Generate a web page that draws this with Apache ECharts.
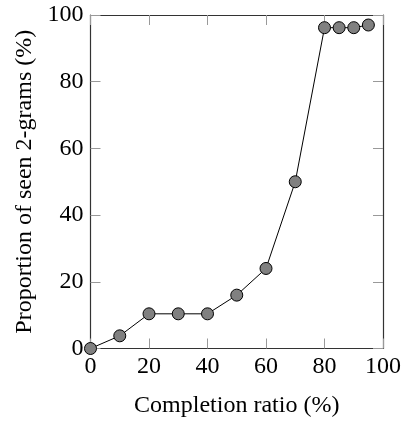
<!DOCTYPE html>
<html>
<head>
<meta charset="utf-8">
<script src="https://cdn.jsdelivr.net/npm/echarts@6/dist/echarts.min.js"></script>
<style>
html,body{margin:0;padding:0;background:#fff;}
#c{width:404px;height:423px;}
</style>
</head>
<body>
<div id="c"></div>
<script>
var completion = [0, 10, 20, 30, 40, 50, 60, 70, 80, 85, 90, 95];
var proportion = [0, 3.8, 10.4, 10.4, 10.4, 16.0, 24.0, 50.0, 96.2, 96.2, 96.2, 97.0];
var xTicks = [0, 20, 40, 60, 80, 100];
var yTicks = [0, 20, 40, 60, 80, 100];
var xName = 'Completion ratio (%)';
var yName = 'Proportion of seen 2-grams (%)';

var FONT = 'Liberation Serif';
var FS = 24;
var chart = echarts.init(document.getElementById('c'), null, {renderer: 'canvas'});
var tickStyle = {show: true, inside: true, length: 10, lineStyle: {color: '#999', width: 1}};
var lineStyle = {show: true, onZero: false, lineStyle: {color: '#333', width: 1.2}};
chart.setOption({
  animation: false,
  grid: {left: 90.5, right: 17.5, top: 15, bottom: 74.5, containLabel: false},
  xAxis: [{
    type: 'value', min: xTicks[0], max: xTicks[xTicks.length - 1], interval: 20,
    position: 'bottom',
    name: xName, nameLocation: 'middle', nameGap: 45,
    nameTextStyle: {fontFamily: FONT, fontSize: FS, color: '#000'},
    axisLine: lineStyle, axisTick: tickStyle,
    axisLabel: {fontFamily: FONT, fontSize: FS, color: '#000', margin: 6},
    splitLine: {show: false}
  }, {
    type: 'value', min: xTicks[0], max: xTicks[xTicks.length - 1], interval: 20,
    position: 'top',
    axisLine: lineStyle, axisTick: tickStyle,
    axisLabel: {show: false}, splitLine: {show: false}
  }],
  yAxis: [{
    type: 'value', min: yTicks[0], max: yTicks[yTicks.length - 1], interval: 20,
    position: 'left',
    name: yName, nameLocation: 'middle', nameGap: 54,
    nameTextStyle: {fontFamily: FONT, fontSize: FS, color: '#000'},
    axisLine: lineStyle, axisTick: tickStyle,
    axisLabel: {fontFamily: FONT, fontSize: FS, color: '#000', margin: 7},
    splitLine: {show: false}
  }, {
    type: 'value', min: yTicks[0], max: yTicks[yTicks.length - 1], interval: 20,
    position: 'right',
    axisLine: lineStyle, axisTick: tickStyle,
    axisLabel: {show: false}, splitLine: {show: false}
  }],
  series: [{
    type: 'line',
    xAxisIndex: 0, yAxisIndex: 0,
    data: completion.map(function (c, i) { return [c, proportion[i]]; }),
    clip: false,
    symbol: 'circle', symbolSize: 12,
    lineStyle: {color: '#000', width: 1},
    itemStyle: {color: '#808080', borderColor: '#000', borderWidth: 1},
    z: 5
  }]
});
</script>
</body>
</html>
